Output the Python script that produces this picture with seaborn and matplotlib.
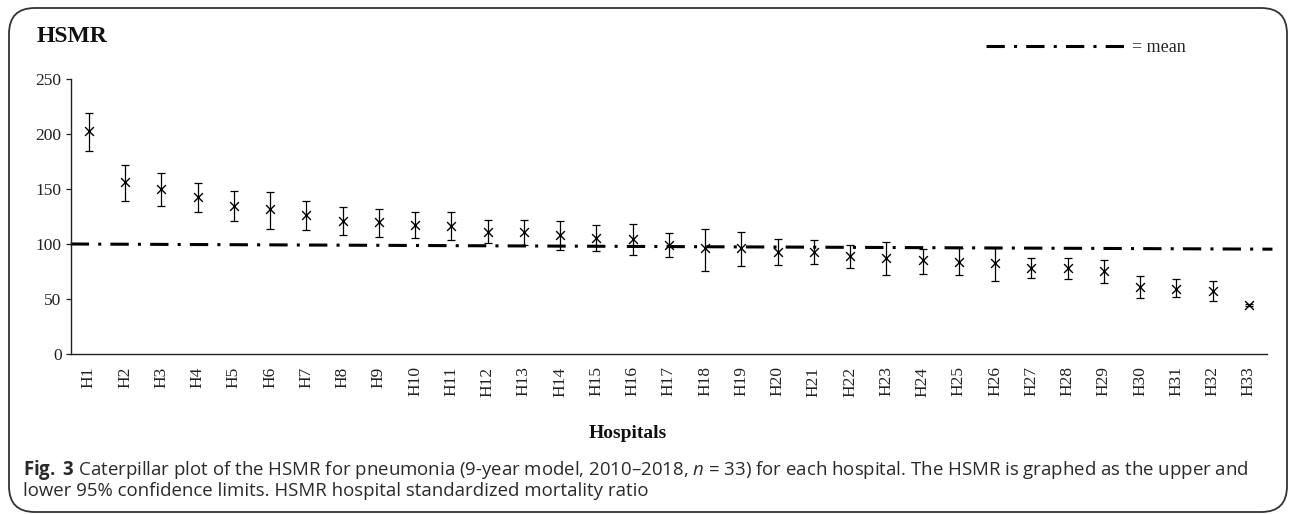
"""Caterpillar plot of HSMR per hospital"""

import numpy as np
import pandas as pd
import matplotlib
matplotlib.use("Agg")
import matplotlib.pyplot as plt
from matplotlib.patches import FancyBboxPatch
import seaborn as sns

hospitals = [f"H{i}" for i in range(1, 34)]
hsmr = [202.5, 156, 150, 142.5, 135, 131.5, 126, 121, 120, 117, 116.7, 111.2,
        110.6, 108.2, 105.7, 104.2, 99.5, 96.1, 96.1, 93, 92.4, 89.1, 87.5, 85.2,
        83.9, 82.4, 78.5, 78.2, 75.6, 61.2, 59.5, 57.6, 44.5]
upper = [219, 171.5, 164.3, 155.5, 148.2, 147.3, 138.8, 133.3, 132.1, 129, 129.1, 121.8,
         122.1, 121.2, 117, 117.9, 109.7, 113.9, 110.6, 104.2, 103.3, 99.1, 101.5, 95.5,
         96.1, 96.1, 87.5, 87.4, 85.6, 70.9, 67.8, 66.4, 45.5]
lower = [184.5, 139.4, 134.5, 129.1, 121.2, 113.9, 113, 107.9, 106.1, 105.2, 103.3, 100.6,
         99.1, 94.5, 93.9, 90.3, 87.9, 75.8, 80, 80.6, 81.6, 77.9, 71.5, 73,
         71.5, 66.4, 69, 68.6, 64.5, 51.2, 52.2, 47.8, 43.5]
mean_x = [-0.5, 32.65]
mean_y = [100, 95.3]

df = pd.DataFrame({"hospital": hospitals, "hsmr": hsmr, "upper": upper, "lower": lower})

sns.set_theme(style="ticks")
plt.rcParams["font.family"] = ["Liberation Serif", "DejaVu Serif"]
plt.rcParams["mathtext.fontset"] = "custom"
plt.rcParams["mathtext.rm"] = "Open Sans"
plt.rcParams["mathtext.it"] = "Open Sans:italic"
plt.rcParams["mathtext.bf"] = "Open Sans:bold"

fig = plt.figure(figsize=(12.9, 5.15), dpi=100)
ax = fig.add_axes([70.7 / 1290, 1 - 354 / 515, (1267 - 70.7) / 1290, (354 - 79) / 515])

dash = (0, (6.0, 3.0, 1.0, 3.0))
ax.plot(mean_x, mean_y, color="black", lw=2.2, linestyle=dash,
        clip_on=False, label="= mean", zorder=1)

ax.errorbar(df["hospital"], df["hsmr"],
            yerr=[df["hsmr"] - df["lower"], df["upper"] - df["hsmr"]],
            fmt="none", ecolor="black", elinewidth=0.9, capsize=3.2, capthick=0.9, zorder=2)
sns.scatterplot(data=df, x="hospital", y="hsmr", marker="x", color="black",
                s=40, linewidth=1.0, ax=ax, zorder=3)

ax.set_xlim(-0.5, 32.5)
ax.set_ylim(0, 250)
ax.set_yticks([0, 50, 100, 150, 200, 250])
ax.set_xlabel("")
ax.set_ylabel("")
sns.despine(ax=ax)
for side in ["left", "bottom"]:
    ax.spines[side].set_linewidth(1.0)
    ax.spines[side].set_color("#222222")
ax.tick_params(axis="y", labelsize=12.5, length=3.5, width=0.9, pad=3, colors="#222222")
ax.tick_params(axis="x", labelsize=12.5, length=0, pad=9, rotation=90, colors="#222222")

fig.text(37 / 1290, 1 - 37 / 515, "HSMR", fontsize=17, fontweight="bold",
         ha="left", va="center", color="#111111")
fig.text(628 / 1290, 1 - 433 / 515, "Hospitals", fontsize=14, fontweight="bold",
         ha="center", va="center", color="#111111")

ax.legend(loc="center left", bbox_to_anchor=(986 / 1290, 1 - 47.5 / 515),
          bbox_transform=fig.transFigure, frameon=False, fontsize=13,
          handlelength=7.9, handletextpad=0.2, borderpad=0, borderaxespad=0)

caption = ("$\\mathbf{Fig.}$ $\\mathbf{3}$ Caterpillar plot of the HSMR for pneumonia (9-year model, 2010–2018, "
           "$\\mathit{n}$ = 33) for each hospital. The HSMR is graphed as the upper and\n"
           "lower 95% confidence limits. HSMR hospital standardized mortality ratio")
fig.text(23 / 1290, 1 - 479 / 515, caption, family="Open Sans", fontsize=13.4,
         ha="left", va="center", color="#2a2a2a", linespacing=1.0)

frame = FancyBboxPatch((9 / 1290, 1 - 512 / 515), (1287 - 9) / 1290, (512 - 8) / 515,
                       boxstyle="round,pad=0,rounding_size=0.02", transform=fig.transFigure,
                       fill=False, edgecolor="#333333", linewidth=1.3, mutation_aspect=2.5)
fig.add_artist(frame)

fig.savefig("out.png", dpi=100)
